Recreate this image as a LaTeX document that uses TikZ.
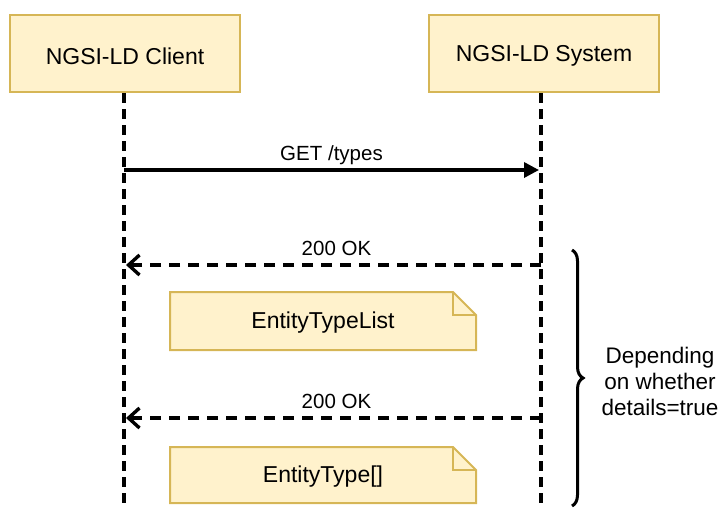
\documentclass[tikz,border=0pt]{standalone}
\usepackage{fontspec}
\setmainfont{Liberation Sans}
\usetikzlibrary{arrows.meta,decorations.pathreplacing}
\definecolor{nfill}{HTML}{FFF2CC}
\definecolor{nline}{HTML}{D6B656}
\begin{document}
\begin{tikzpicture}[x=1pt,y=-1pt,
  actor/.style={draw=nline,fill=nfill,line width=2pt,minimum width=230pt,minimum height=77pt,font=\fontsize{23}{27}\selectfont},
  lifeline/.style={line width=3.4pt,dash pattern=on 10pt off 6pt},
  callarrow/.style={line width=3.4pt,-{Triangle[length=15pt,width=15pt]}},
  retarrow/.style={line width=3.4pt,dash pattern=on 11pt off 8pt,-{Straight Barb[length=11pt,width=20pt,line width=3.4pt]}},
  lbl/.style={font=\fontsize{20.5}{24}\selectfont,inner sep=0pt},
  notebox/.style={draw=nline,fill=nfill,line width=2pt,line join=miter},
  notetext/.style={font=\fontsize{23}{27}\selectfont,inner sep=0pt}]
\useasboundingbox (0,0) rectangle (722,509);
\node[actor] (client) at (125,53.5) {};
\node[actor] (system) at (544,53.5) {};
\node[actor,draw=none,fill=none] at (125,56) {NGSI-LD Client};
\node[actor,draw=none,fill=none] at (544,56) {NGSI-LD System};
\coordinate (cend) at (125,509);
\coordinate (send) at (541,509);
\draw[lifeline] (client.south -| 124,0) -- (cend -| 124,0);
\draw[lifeline] (system.south -| 541,0) -- (send);
% GET
\coordinate (g1) at (124,170);
\coordinate (g2) at (539,170);
\draw[callarrow] (g1) -- (g2) node[lbl,midway,above=4pt] {GET /types};
% 200 OK 1
\coordinate (r1a) at (541,265);
\coordinate (r1b) at (126,265);
\draw[retarrow] (r1a) -- (r1b) node[lbl,midway,above=8pt,xshift=3pt] {200 OK};
% note 1
\draw[notebox] (170,292) -- (453,292) -- (476,315) -- (476,350) -- (170,350) -- cycle;
\draw[notebox,fill=none] (453,292) -- (453,315) -- (476,315);
\node[notetext] (n1) at (323,323) {EntityTypeList};
% 200 OK 2
\coordinate (r2a) at (541,418);
\coordinate (r2b) at (126,418);
\draw[retarrow] (r2a) -- (r2b) node[lbl,midway,above=8pt,xshift=3pt] {200 OK};
% note 2
\draw[notebox] (170,447) -- (453,447) -- (476,470) -- (476,503) -- (170,503) -- cycle;
\draw[notebox,fill=none] (453,447) -- (453,470) -- (476,470);
\node[notetext] (n2) at (323,477) {EntityType[]};
% brace
\coordinate (b1) at (572,250);
\coordinate (b2) at (572,506);
\draw[line width=3pt,decorate,decoration={brace,amplitude=11pt}] (b1) -- (b2);
\node[lbl,font=\fontsize{22.5}{26}\selectfont,align=center] (dep) at (660,381) {Depending\\on whether\\details=true};
\end{tikzpicture}
\end{document}
